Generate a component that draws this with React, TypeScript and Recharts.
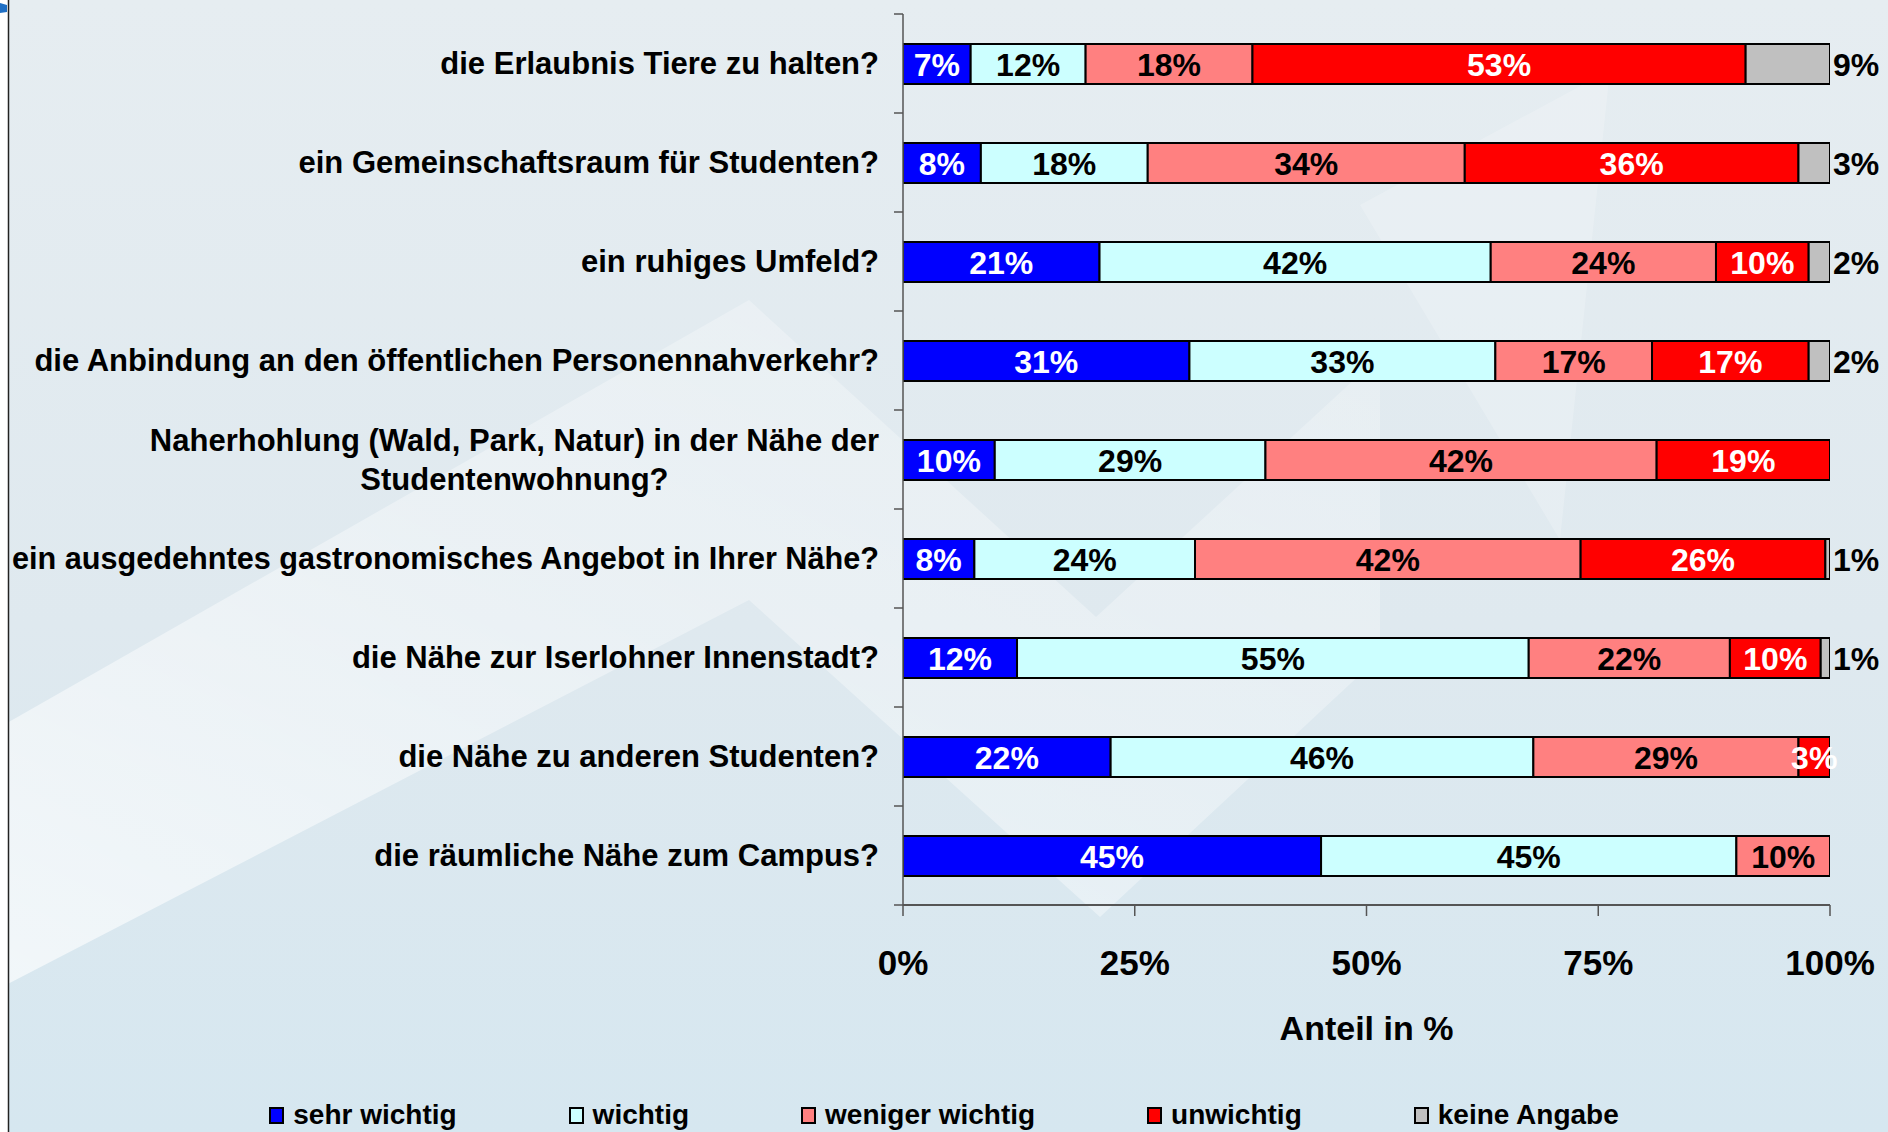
import React from 'react';
import { BarChart, Bar, XAxis, YAxis, Legend, LabelList, Label } from 'recharts';

const categories = [
  'die Erlaubnis Tiere zu halten?',
  'ein Gemeinschaftsraum für Studenten?',
  'ein ruhiges Umfeld?',
  'die Anbindung an den öffentlichen Personennahverkehr?',
  'Naherhohlung (Wald, Park, Natur) in der Nähe der\nStudentenwohnung?',
  'ein ausgedehntes gastronomisches Angebot in Ihrer Nähe?',
  'die Nähe zur Iserlohner Innenstadt?',
  'die Nähe zu anderen Studenten?',
  'die räumliche Nähe zum Campus?',
];

const sehrWichtig = [7.3, 8.4, 21.2, 30.9, 9.9, 7.7, 12.3, 22.4, 45.1];
const wichtig = [12.4, 18.0, 42.2, 33.0, 29.2, 23.8, 55.2, 45.6, 44.8];
const wenigerWichtig = [18.0, 34.2, 24.3, 16.9, 42.2, 41.6, 21.7, 28.6, 10.1];
const unwichtig = [53.2, 36.0, 10.0, 16.9, 18.7, 26.4, 9.8, 3.4, 0];
const keineAngabe = [9.1, 3.4, 2.3, 2.3, 0, 0.5, 1.0, 0, 0];

const xTicks = [0, 25, 50, 75, 100];
const seriesNames = ['sehr wichtig', 'wichtig', 'weniger wichtig', 'unwichtig', 'keine Angabe'];

const SERIES = [
  { key: 's1', name: seriesNames[0], values: sehrWichtig, color: '#0000FF', text: '#FFFFFF', outside: false },
  { key: 's2', name: seriesNames[1], values: wichtig, color: '#CCFFFF', text: '#000000', outside: false },
  { key: 's3', name: seriesNames[2], values: wenigerWichtig, color: '#FF8080', text: '#000000', outside: false },
  { key: 's4', name: seriesNames[3], values: unwichtig, color: '#FF0000', text: '#FFFFFF', outside: false },
  { key: 's5', name: seriesNames[4], values: keineAngabe, color: '#C0C0C0', text: '#000000', outside: true },
];

const data = categories.map((name, i) => {
  const row: any = { name };
  SERIES.forEach((s) => {
    row[s.key] = s.values[i];
  });
  return row;
});

const FONT = "'Liberation Sans', Arial, Helvetica, sans-serif";
const CAT_FONT_SIZE = 31;
const CAT_LINE_HEIGHT = 39;
const CAT_MAX_WIDTH = 867;

let measureCtx: CanvasRenderingContext2D | null = null;
const measure = (t: string) => {
  if (typeof document === 'undefined') return t.length * CAT_FONT_SIZE * 0.55;
  if (!measureCtx) {
    const c = document.createElement('canvas');
    measureCtx = c.getContext('2d');
  }
  if (!measureCtx) return t.length * CAT_FONT_SIZE * 0.55;
  measureCtx.font = `bold ${CAT_FONT_SIZE}px ${FONT}`;
  return measureCtx.measureText(t).width;
};

const CategoryTick = (props: any) => {
  const { x, y, payload, index } = props;
  const half = payload && payload.offset ? payload.offset : 49.5;
  const lines: string[] = String(payload.value).split('\n');
  const right = x - 24;
  const widths = lines.map(measure);
  const maxW = Math.min(CAT_MAX_WIDTH, Math.max(...widths));
  const multi = lines.length > 1;
  const cx = right - maxW / 2;
  return (
    <g>
      <line x1={x - 9} x2={x} y1={y - half} y2={y - half} stroke="#555" strokeWidth={1.5} />
      {index === categories.length - 1 && (
        <line x1={x - 9} x2={x} y1={y + half} y2={y + half} stroke="#555" strokeWidth={1.5} />
      )}
      {lines.map((l, i) => {
        const tooWide = widths[i] > CAT_MAX_WIDTH;
        return (
          <text
            key={i}
            x={multi ? cx : right}
            y={y + (i - (lines.length - 1) / 2) * CAT_LINE_HEIGHT}
            textAnchor={multi ? 'middle' : 'end'}
            dominantBaseline="central"
            fontSize={CAT_FONT_SIZE}
            fontWeight="bold"
            fontFamily={FONT}
            fill="#000"
            {...(tooWide ? { textLength: CAT_MAX_WIDTH, lengthAdjust: 'spacingAndGlyphs' } : {})}
          >
            {l}
          </text>
        );
      })}
    </g>
  );
};

const makeValueLabel = (textColor: string, outside: boolean) => (props: any) => {
  const { x, y, width, height, value } = props;
  const v = Number(value);
  if (!v || v <= 0) return null;
  const tx = outside ? Number(x) + Number(width) + 3 : Number(x) + Number(width) / 2;
  return (
    <text
      x={tx}
      y={Number(y) + Number(height) / 2 + 1}
      textAnchor={outside ? 'start' : 'middle'}
      dominantBaseline="central"
      fontSize={32}
      fontWeight="bold"
      fontFamily={FONT}
      fill={textColor}
    >
      {`${Math.round(v)}%`}
    </text>
  );
};

const renderAxisTitle = (props: any) => {
  const vb = props.viewBox || {};
  return (
    <text
      x={vb.x + vb.width / 2}
      y={vb.y + 135}
      textAnchor="middle"
      fontSize={34}
      fontWeight="bold"
      fontFamily={FONT}
      fill="#000"
    >
      Anteil in %
    </text>
  );
};

const renderLegend = () => (
  <div
    style={{
      display: 'flex',
      justifyContent: 'center',
      alignItems: 'center',
      gap: 112,
      height: 40,
      paddingTop: 6,
      boxSizing: 'border-box',
      fontFamily: FONT,
    }}
  >
    {SERIES.map((s) => (
      <div key={s.key} style={{ display: 'flex', alignItems: 'center' }}>
        <span
          style={{
            display: 'inline-block',
            width: 15,
            height: 17,
            background: s.color,
            border: '2px solid #000',
            boxSizing: 'border-box',
            marginRight: 9,
          }}
        />
        <span style={{ fontSize: 28, fontWeight: 'bold', color: '#000', lineHeight: '34px' }}>{s.name}</span>
      </div>
    ))}
  </div>
);

const Background = () => (
  <svg width={1888} height={1132} style={{ position: 'absolute', left: 0, top: 0 }}>
    <defs>
      <linearGradient id="bgGrad" x1="0" y1="0" x2="0" y2="1">
        <stop offset="0%" stopColor="#e6edf1" />
        <stop offset="55%" stopColor="#dfe9ef" />
        <stop offset="100%" stopColor="#d6e7f0" />
      </linearGradient>
      <linearGradient id="bandGrad" x1="0" y1="1" x2="1" y2="0">
        <stop offset="0%" stopColor="#ffffff" stopOpacity={0.65} />
        <stop offset="50%" stopColor="#ffffff" stopOpacity={0.35} />
        <stop offset="100%" stopColor="#ffffff" stopOpacity={0.2} />
      </linearGradient>
    </defs>
    <rect x={0} y={0} width={1888} height={1132} fill="url(#bgGrad)" />
    <polygon
      points="0,727 749,300 1096,617 1380,356 1380,656 1100,917 749,600 0,988"
      fill="url(#bandGrad)"
    />
    <polygon points="1360,205 1610,70 1560,540" fill="#ffffff" fillOpacity={0.2} />
    <rect x={0} y={0} width={8} height={1132} fill="#ffffff" />
    <line x1={8.5} y1={0} x2={8.5} y2={1132} stroke="#222" strokeWidth={1.5} />
    <path d="M0,3 L7,5 L7,12 L0,13 Z" fill="#1f6fc4" />
  </svg>
);

export default function App() {
  return (
    <div
      style={{
        position: 'absolute',
        left: 0,
        top: 0,
        width: 1888,
        height: 1132,
        overflow: 'hidden',
        fontFamily: FONT,
      }}
    >
      <Background />
      <div style={{ position: 'absolute', left: 0, top: 0 }}>
        <BarChart
          width={1888}
          height={1132}
          data={data}
          layout="vertical"
          margin={{ top: 14, right: 58, left: 0, bottom: 0 }}
          barSize={40}
        >
          <XAxis
            type="number"
            domain={[0, 100]}
            ticks={xTicks}
            tickFormatter={(v: number) => `${v}%`}
            height={187}
            tickSize={11}
            tickMargin={34}
            axisLine={{ stroke: '#555', strokeWidth: 2 }}
            tickLine={{ stroke: '#555', strokeWidth: 1.5 }}
            tick={{ fontSize: 35, fontWeight: 'bold', fill: '#000', fontFamily: FONT }}
            interval={0}
            allowDataOverflow
          >
            <Label content={renderAxisTitle} />
          </XAxis>
          <YAxis
            type="category"
            dataKey="name"
            width={903}
            tickSize={0}
            tickMargin={0}
            tickLine={false}
            axisLine={{ stroke: '#555', strokeWidth: 1.5 }}
            tick={<CategoryTick />}
            interval={0}
          />
          <Legend
            verticalAlign="bottom"
            content={renderLegend}
            wrapperStyle={{ left: 0, width: 1888 }}
          />
          {SERIES.map((s) => (
            <Bar
              key={s.key}
              dataKey={s.key}
              name={s.name}
              stackId="a"
              fill={s.color}
              stroke="#000"
              strokeWidth={2}
              isAnimationActive={false}
            >
              <LabelList dataKey={s.key} content={makeValueLabel(s.text, s.outside)} />
            </Bar>
          ))}
        </BarChart>
      </div>
    </div>
  );
}
